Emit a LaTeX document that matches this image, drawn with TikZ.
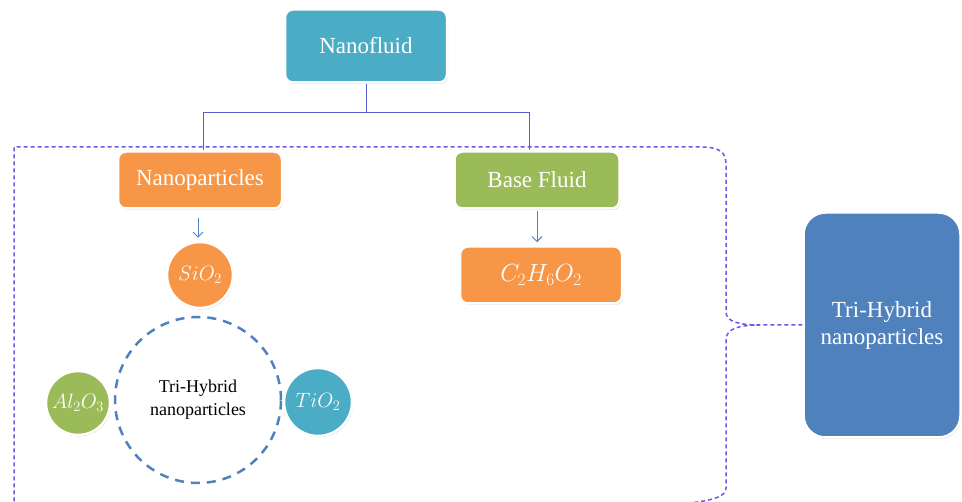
\documentclass[tikz,border=0pt]{standalone}
\usepackage{fontspec}
\setmainfont{Liberation Serif}
\usetikzlibrary{arrows.meta,shadows}
\definecolor{nfteal}{RGB}{75,172,198}
\definecolor{nforange}{RGB}{247,150,70}
\definecolor{nfgreen}{RGB}{155,187,89}
\definecolor{nfblue}{RGB}{79,129,189}
\definecolor{nfline}{RGB}{85,95,210}
\definecolor{nfbrace}{RGB}{105,90,230}

\begin{document}
\begin{tikzpicture}[x=1pt,y=-1pt,
		box/.style={rectangle,rounded corners=8pt,draw=white,line width=2.5pt,text=white,minimum width=162pt,minimum height=57pt,font=\fontsize{23}{27}\selectfont,drop shadow={opacity=0.3,shadow xshift=1pt,shadow yshift=-1.5pt}},
		ball/.style={circle,draw=white,line width=2.5pt,text=white,minimum size=66pt,inner sep=0pt,font=\fontsize{20}{24}\selectfont,drop shadow={opacity=0.3,shadow xshift=1pt,shadow yshift=-1.5pt}},
		link/.style={nfline,line width=1pt},
		feed/.style={nfblue,line width=1pt,-{Straight Barb[length=5pt,width=10pt]}}]
		\useasboundingbox (0,0) rectangle (962,502);
		\node[box,fill=nfteal,minimum height=73pt] (fluid) at (366,46) {Nanofluid};
		\node[box,fill=nforange,minimum width=164pt] (parts) at (200,180) {Nanoparticles};
		\node[box,fill=nfgreen,minimum width=165pt] (base) at (537,180) {Base Fluid};
		\node[box,fill=nforange] (glycol) at (541,275) {$C_2H_6O_2$};
		\node[box,fill=nfblue,rounded corners=22pt,minimum width=157pt,minimum height=225pt,align=center] (tri) at (882,325) {Tri-Hybrid\\nanoparticles};
		
		\node[circle,draw=nfblue,line width=2.5pt,dash pattern=on 9pt off 7pt,minimum size=166pt,align=center,font=\fontsize{18}{23}\selectfont] (core) at (198,400) {Tri-Hybrid\\nanoparticles};
		\node[ball,fill=nforange] (si) at (200,275) {$SiO_2$};
		\node[ball,fill=nfgreen,minimum size=64pt] (al) at (78,403) {$Al_2O_3$};
		\node[ball,fill=nfteal,minimum size=68pt] (ti) at (318,402) {$TiO_2$};
		
		\coordinate (fork) at (366,113);
		\draw[link] (fluid.south) -- (fork);
		\draw[link] (fork) -| ([xshift=3pt]parts.north);
		\draw[link] (fork) -| ([xshift=-8pt]base.north);
		\draw[feed,shorten <=8pt,shorten >=3pt] ([xshift=-2pt]parts.south) -- ([xshift=-2pt]si.north);
		\draw[feed,shorten <=1pt,shorten >=3pt] (base.south) -- (base.south |- glycol.north);
		
		\draw[nfbrace,line width=1.5pt,dash pattern=on 4pt off 3pt] (tri.west) -- (760,325)
			.. controls (740,325) and (726,322) .. (726,312) -- (726,165)
			.. controls (726,152) and (720,147) .. (700,147) -- (14,147) -- (14,503) -- (690,503)
			.. controls (715,500) and (726,496) .. (726,488) -- (726,340)
			.. controls (726,328) and (740,325) .. (760,325);
		\end{tikzpicture}
\end{document}
